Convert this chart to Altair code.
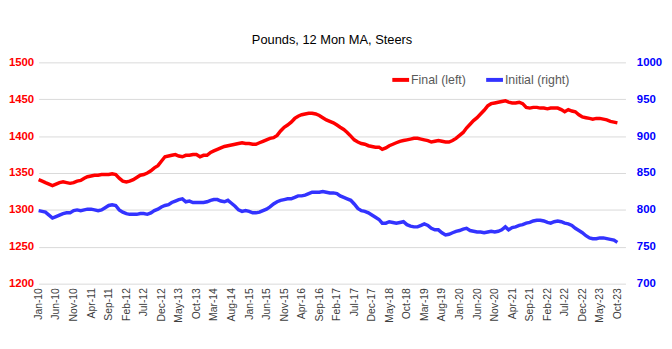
import altair as alt
import pandas as pd

final_left = [
    1341, 1339, 1337, 1335, 1333, 1335, 1337, 1338, 1337, 1336,
    1337, 1339, 1340, 1343, 1345, 1346, 1347, 1347, 1348, 1348,
    1348, 1349, 1348, 1343, 1339, 1338, 1339, 1341, 1344, 1347,
    1348, 1350, 1353, 1357, 1360, 1366, 1372, 1373, 1374, 1375,
    1373, 1372, 1374, 1374, 1375, 1375, 1372, 1374, 1374, 1378,
    1380, 1382, 1384, 1386, 1387, 1388, 1389, 1390, 1391, 1390,
    1390, 1389, 1389, 1391, 1393, 1395, 1397, 1398, 1401, 1407,
    1412, 1415, 1419, 1424, 1427, 1429, 1430, 1431, 1431, 1430,
    1428, 1425, 1422, 1420, 1418, 1415, 1412, 1409, 1405, 1400,
    1395, 1392, 1390, 1389, 1387, 1386, 1385, 1385, 1382, 1384,
    1387, 1389, 1391, 1393, 1394, 1395, 1396, 1397, 1397, 1396,
    1395, 1394, 1392, 1393, 1394, 1393, 1392, 1392, 1394, 1397,
    1401, 1405, 1411, 1416, 1421, 1425, 1430, 1435, 1441, 1444,
    1445, 1446, 1447, 1448, 1446, 1445, 1445, 1446, 1444, 1439,
    1438, 1439, 1439, 1438, 1438, 1437, 1438, 1438, 1438, 1436,
    1433, 1436, 1434, 1433, 1429, 1426, 1425, 1424, 1423, 1424,
    1424, 1423, 1422, 1420, 1419, 1418,
]

initial_right = [
    799, 798, 797, 793, 789, 791, 793, 795, 796, 796,
    799, 800, 799, 800, 801, 801, 800, 799, 800, 803,
    806, 807, 806, 800, 797, 795, 794, 794, 794, 795,
    795, 794, 796, 799, 801, 804, 806, 807, 810, 812,
    814, 815, 811, 812, 810, 810, 810, 810, 811, 813,
    814, 814, 812, 811, 813, 809, 805, 800, 798, 799,
    798, 796, 796, 797, 799, 801, 804, 808, 811, 813,
    814, 815, 815, 817, 819, 819, 820, 822, 824, 824,
    824, 825, 824, 823, 823, 822, 819, 817, 815, 813,
    808, 802, 799, 798, 796, 793, 790, 787, 782, 782,
    784, 783, 782, 783, 784, 780, 778, 777, 777, 779,
    781, 779, 775, 773, 773, 769, 766, 767, 769, 771,
    772, 774, 775, 772, 771, 770, 770, 769, 770, 771,
    770, 771, 773, 777, 773, 776, 777, 779, 780, 782,
    783, 785, 786, 786, 785, 783, 782, 784, 785, 784,
    782, 781, 779, 775, 772, 769, 765, 762, 761, 761,
    762, 762, 761, 760, 759, 756,
]

series_names = ["Final (left)", "Initial (right)"]
series_colors = ["#FF0000", "#3333FF"]

months = pd.date_range("2010-01-01", periods=len(final_left), freq="MS")
tick_months = pd.date_range("2010-01-01", "2023-10-01", freq="5MS")


def ms(ts):
    return int(pd.Timestamp(ts).value // 10**6)


dates_ms = [ms(d) for d in months]
tick_values = [ms(d) for d in tick_months]
x_domain = [ms("2010-01-01"), ms("2023-12-10")]

df = pd.DataFrame({
    "date": dates_ms * 2,
    "value": final_left + initial_right,
    "series": [series_names[0]] * len(final_left) + [series_names[1]] * len(initial_right),
})

base = alt.Chart(df)

x_enc = alt.X(
    "date:T",
    scale=alt.Scale(type="utc", domain=x_domain),
    axis=alt.Axis(
        title=None,
        values=tick_values,
        labelExpr="utcFormat(datum.value, '%b-%y')",
        labelAngle=270,
        labelFontSize=10.5,
        labelColor="#404040",
        labelFont="Liberation Sans",
        labelPadding=4,
        labelOverlap=False,
        labelBound=False,
        labelFlush=False,
        ticks=False,
        domain=False,
        grid=False,
    ),
)

color_enc = alt.Color(
    "series:N",
    scale=alt.Scale(domain=series_names, range=series_colors),
    legend=alt.Legend(
        title=None,
        orient="none",
        direction="horizontal",
        legendX=356,
        legendY=7,
        symbolType="stroke",
        symbolSize=289,
        symbolStrokeWidth=4,
        labelFontSize=12.5,
        labelFont="Liberation Sans",
        labelColor="#595959",
        labelOffset=0,
        columnPadding=12,
    ),
)

left = base.transform_filter(
    alt.datum.series == series_names[0]
).mark_line(strokeWidth=3.5).encode(
    x=x_enc,
    y=alt.Y(
        "value:Q",
        scale=alt.Scale(domain=[1200, 1500], nice=False, zero=False),
        axis=alt.Axis(
            title=None,
            values=[1200, 1250, 1300, 1350, 1400, 1450, 1500],
            format="d",
            labelColor="#FF0000",
            labelFontWeight="bold",
            labelFontSize=11.5,
            labelFont="Liberation Sans",
            labelPadding=5,
            ticks=False,
            domain=False,
            grid=True,
            gridColor="#D9D9D9",
            gridWidth=1,
            orient="left",
        ),
    ),
    color=color_enc,
)

right = base.transform_filter(
    alt.datum.series == series_names[1]
).mark_line(strokeWidth=3.5).encode(
    x=x_enc,
    y=alt.Y(
        "value:Q",
        scale=alt.Scale(domain=[700, 1000], nice=False, zero=False),
        axis=alt.Axis(
            title=None,
            values=[700, 750, 800, 850, 900, 950, 1000],
            format="d",
            labelColor="#0000FF",
            labelFontWeight="bold",
            labelFontSize=11.5,
            labelFont="Liberation Sans",
            labelPadding=11,
            ticks=False,
            domain=False,
            grid=False,
            orient="right",
        ),
    ),
    color=color_enc,
)

chart = alt.layer(left, right).resolve_scale(y="independent").properties(
    width=594,
    height=224,
    autosize="none",
    padding={"left": 31, "top": 53, "right": 39, "bottom": 55},
    title=alt.TitleParams(
        "Pounds, 12 Mon MA, Steers",
        fontSize=13,
        font="Liberation Sans",
        fontWeight="normal",
        color="#000000",
        anchor="middle",
        frame="group",
        offset=10,
    ),
    background="white",
).configure_view(stroke=None)

chart.save("out.html", embed_options={"renderer": "svg", "actions": False})
